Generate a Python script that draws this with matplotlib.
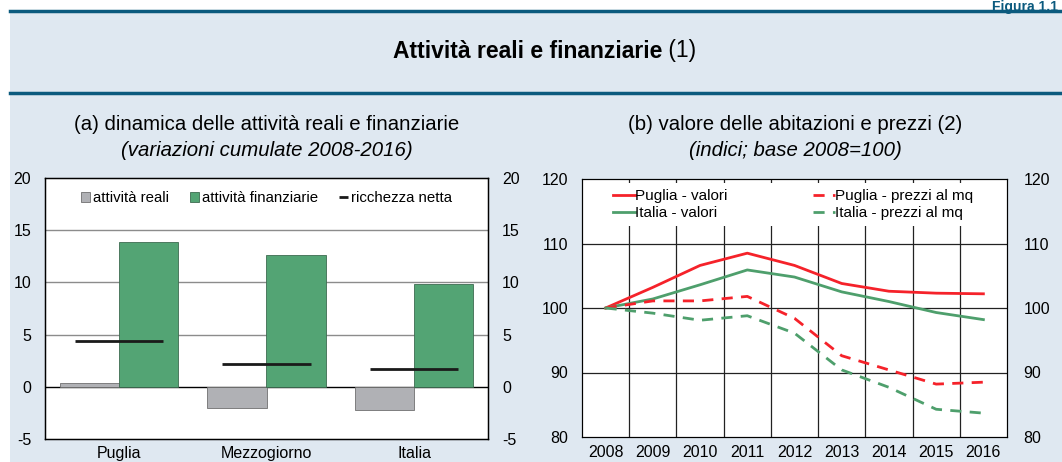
import numpy as np
import matplotlib.pyplot as plt
from matplotlib.lines import Line2D
from matplotlib.patches import Rectangle

plt.rcParams['font.family'] = ['Liberation Sans', 'DejaVu Sans']
plt.rcParams['axes.unicode_minus'] = False

# Panel (a) data
regions = ['Puglia', 'Mezzogiorno', 'Italia']
att_reali = [0.4, -2.0, -2.2]
att_finanziarie = [13.9, 12.6, 9.8]
ricchezza_netta = [4.4, 2.2, 1.7]

# Panel (b) data
years = ['2008', '2009', '2010', '2011', '2012', '2013', '2014', '2015', '2016']
puglia_valori = [100.0, 103.2, 106.6, 108.5, 106.6, 103.8, 102.6, 102.3, 102.2]
italia_valori = [100.0, 101.4, 103.6, 105.9, 104.8, 102.5, 101.0, 99.3, 98.2]
puglia_prezzi = [100.0, 101.1, 101.1, 101.8, 98.4, 92.6, 90.4, 88.2, 88.5]
italia_prezzi = [100.0, 99.2, 98.1, 98.8, 96.1, 90.4, 87.7, 84.3, 83.7]

W, H = 1062, 462
bg = '#dfe8f1'
navy = '#0b5a7e'
grey_bar = '#b0b1b5'
green = '#53a474'
red = '#f5222a'
green_line = '#4e9f6c'

fig = plt.figure(figsize=(W / 100, H / 100), dpi=100, facecolor='white')

# light blue panel and rules
fig.patches.append(Rectangle((10 / W, 0), 1, 1 - 10 / H, transform=fig.transFigure,
                             facecolor=bg, edgecolor='none', zorder=-10))
fig.add_artist(Line2D([10 / W, 1], [1 - 10.5 / H] * 2, color=navy, lw=2.5))
fig.add_artist(Line2D([10 / W, 1], [1 - 93 / H] * 2, color=navy, lw=2.5))
fig.text(1058 / W, 1 - 0.5 / H, 'Figura 1.1', ha='right', va='top', color=navy,
         fontsize=10, fontweight='bold')
fig.text(662 / W, 1 - 51 / H, 'Attività reali e finanziarie', ha='right', va='center',
         fontsize=16.5, fontweight='bold')
fig.text(662 / W, 1 - 51 / H, ' (1)', ha='left', va='center', fontsize=16.5)


def px_axes(left, top, right, bottom):
    return fig.add_axes([left / W, 1 - bottom / H, (right - left) / W, (bottom - top) / H])


# ---------- panel (a) ----------
ax1 = px_axes(45, 178, 488, 439)
x = np.arange(len(regions))
bw = 0.4
ax1.bar(x - bw / 2, att_reali, bw, color=grey_bar, edgecolor='#707070', lw=0.6,
        label='attività reali', zorder=3)
ax1.bar(x + bw / 2, att_finanziarie, bw, color=green, edgecolor='#3d6b50', lw=0.6,
        label='attività finanziarie', zorder=3)
ax1.hlines(ricchezza_netta, x - 0.3, x + 0.3, color='#1a1a1a', lw=2, zorder=4)
ax1.set_xlim(-0.5, 2.5)
ax1.set_ylim(-5, 20)
ax1.set_yticks([-5, 0, 5, 10, 15, 20])
ax1.set_xticks(x)
ax1.set_xticklabels(regions)
for v in [5, 10, 15]:
    ax1.axhline(v, color='#8c8c8c', lw=1, zorder=1)
ax1.axhline(0, color='black', lw=1, zorder=2)
ax1.tick_params(length=0, labelsize=11.5, pad=10)
ax1.tick_params(axis='x', pad=5)
for s in ax1.spines.values():
    s.set_linewidth(1)
ax1r = ax1.twinx()
ax1r.set_ylim(-5, 20)
ax1r.set_yticks([-5, 0, 5, 10, 15, 20])
ax1r.tick_params(length=0, labelsize=11.5, pad=10)
h_net = Line2D([], [], color='#1a1a1a', lw=2, solid_capstyle='butt')
h1, l1 = ax1.get_legend_handles_labels()
ax1.legend(h1 + [h_net], l1 + ['ricchezza netta'], loc='upper center', ncol=3, frameon=False,
           fontsize=10.8, handlelength=0.6, handleheight=0.6, handletextpad=0.2,
           columnspacing=1.4, bbox_to_anchor=(0.5, 1.0))
fig.text(267 / W, 1 - 124 / H, '(a) dinamica delle attività reali e finanziarie',
         ha='center', va='center', fontsize=14.7)
fig.text(267 / W, 1 - 150 / H, '(variazioni cumulate 2008-2016)',
         ha='center', va='center', fontsize=14.7, style='italic')

# ---------- panel (b) ----------
ax2 = px_axes(582, 179, 1007, 437)
xi = np.arange(len(years))
ax2.plot(xi, puglia_valori, color=red, lw=2, label='Puglia - valori', zorder=3)
ax2.plot(xi, italia_valori, color=green_line, lw=2, label='Italia - valori', zorder=3)
ax2.plot(xi, puglia_prezzi, color=red, lw=2, ls=(0, (4, 3)), label='Puglia - prezzi al mq', zorder=3)
ax2.plot(xi, italia_prezzi, color=green_line, lw=2, ls=(0, (4, 3)), label='Italia - prezzi al mq', zorder=3)
ax2.set_xlim(-0.5, len(years) - 0.5)
ax2.set_ylim(80, 120)
ax2.set_yticks([80, 90, 100, 110, 120])
ax2.set_xticks(xi)
ax2.set_xticklabels(years)
for v in [90, 100, 110]:
    ax2.axhline(v, color='#222222', lw=0.9, zorder=1)
for k in range(len(years) - 1):
    ax2.axvline(k + 0.5, color='#222222', lw=0.9, zorder=1)
ax2.tick_params(length=0, labelsize=11.5, pad=10)
ax2.tick_params(axis='x', pad=6)
ax2r = ax2.twinx()
ax2r.set_ylim(80, 120)
ax2r.set_yticks([80, 90, 100, 110, 120])
ax2r.tick_params(length=0, labelsize=11.5, pad=12)
leg2 = ax2.legend(loc='upper left', ncol=2, frameon=True, fancybox=False, fontsize=11,
                  handlelength=1.4, handletextpad=0.05, columnspacing=5.6,
                  labelspacing=0.2, borderaxespad=0.25, bbox_to_anchor=(0.05, 1.0))
leg2.get_frame().set_facecolor('white')
leg2.get_frame().set_edgecolor('none')
leg2.get_frame().set_alpha(1)
leg2.set_zorder(5)
fig.text(795 / W, 1 - 124 / H, '(b) valore delle abitazioni e prezzi (2)',
         ha='center', va='center', fontsize=14.7)
fig.text(795 / W, 1 - 150 / H, '(indici; base 2008=100)',
         ha='center', va='center', fontsize=14.7, style='italic')

fig.savefig('out.png', dpi=100, facecolor='white')
